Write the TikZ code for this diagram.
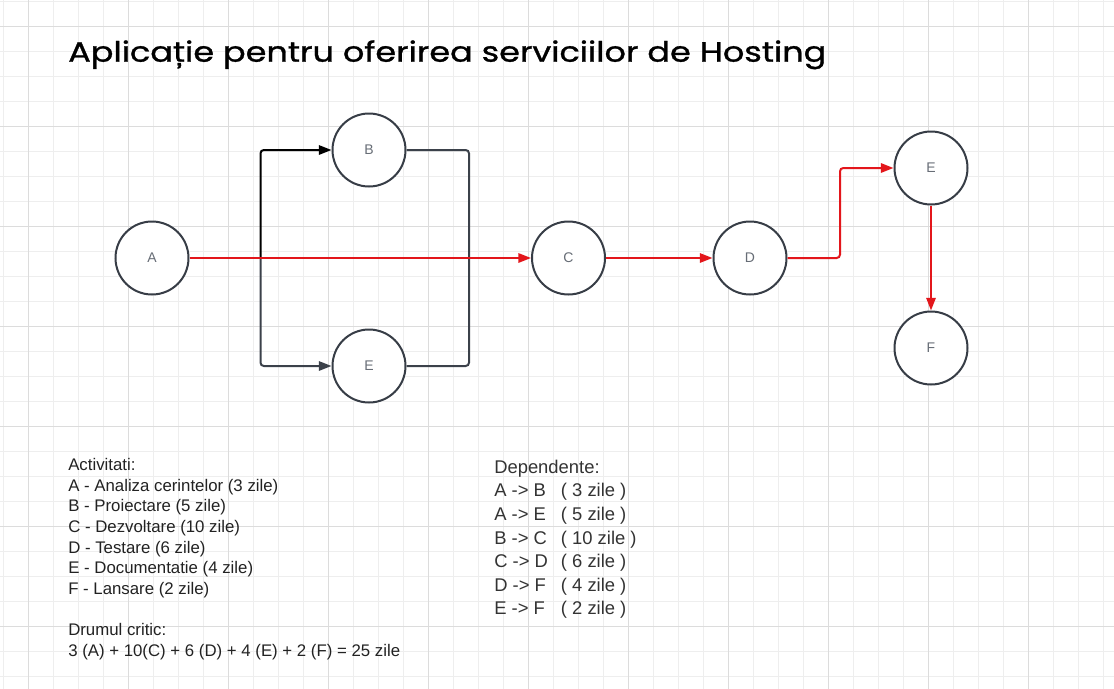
\documentclass[tikz,border=0pt]{standalone}
\usepackage{fontspec}
\setmainfont{Liberation Sans}
\newfontfamily\titlefont{Poppins}[FakeBold=1]
\usetikzlibrary{arrows.meta,calc}
\definecolor{CritClr}{HTML}{E3161B}
\definecolor{RingClr}{HTML}{373D46}
\definecolor{LinkClr}{HTML}{3B414A}
\definecolor{LblClr}{HTML}{676D76}
\definecolor{GridMinor}{HTML}{EEEEEE}
\definecolor{GridMajor}{HTML}{DCDCDC}
\definecolor{TxtClr}{HTML}{222222}
\definecolor{DepClr}{HTML}{333333}

\tikzset{
  task/.style={circle,draw=RingClr,line width=1.5pt,fill=white,minimum size=54.75pt,inner sep=0pt,
    text=LblClr,font=\fontsize{10.5}{12}\selectfont},
  link/.style={line width=1.5pt,color=LinkClr,rounded corners=2.5pt,-{Triangle[length=9.5pt,width=7pt]}},
  crit/.style={line width=1.5pt,color=CritClr,rounded corners=2.5pt,-{Triangle[length=9.5pt,width=7pt]}},
  info/.style={anchor=base west,inner sep=0pt,text=TxtClr,font=\fontsize{12.6}{14}\selectfont},
  dep/.style={anchor=base west,inner sep=0pt,text=DepClr,font=\fontsize{13.8}{16}\selectfont}
}

\begin{document}
\begin{tikzpicture}[x=0.75pt,y=-0.75pt]
\useasboundingbox (0,0) rectangle (1114,689);
\fill[white] (0,0) rectangle (1114,689);

% grid
\foreach \x in {3,28,...,1113}
  \draw[GridMinor,line width=0.75pt] (\x,0) -- (\x,689);
\foreach \y in {1.7,26.7,...,689}
  \draw[GridMinor,line width=0.75pt] (0,\y) -- (1114,\y);
\foreach \x in {28,128,...,1113}
  \draw[GridMajor,line width=0.75pt] (\x,0) -- (\x,689);
\foreach \y in {26.7,126.7,...,689}
  \draw[GridMajor,line width=0.75pt] (0,\y) -- (1114,\y);

% title
\node[anchor=base west,inner sep=0pt,font=\titlefont\fontsize{21}{24}\selectfont] (title) at (68,61.7)
  {\resizebox{568.5pt}{\height}{Aplicație pentru oferirea serviciilor de Hosting}};

% activities
\node[task] (A) at (152,258) {A};
\node[task] (B) at (369,150) {B};
\node[task] (E1) at (369,366) {E};
\node[task] (C) at (568.5,258) {C};
\node[task] (D) at (750,258) {D};
\node[task] (E) at (931,168) {E};
\node[task] (F) at (931,348) {F};

\coordinate (j1) at (260.5,258);
\coordinate (j2) at (469,258);
\coordinate (k) at (840,258);

\draw[link,color=black] (j1) |- (B);
\draw[link] (j1) |- (E1);
\draw[link,-] (B) -| (j2);
\draw[link,-] (E1) -| (j2);

\draw[crit] (A) -- (C);
\draw[crit] (C) -- (D);
\draw[crit] (D) -- (k) |- (E);
\draw[crit] (E) -- (F);

% legend
\foreach \t [count=\i] in {Activitati:,A - Analiza cerintelor (3 zile),B - Proiectare (5 zile),
    C - Dezvoltare (10 zile),D - Testare (6 zile),E - Documentatie (4 zile),F - Lansare (2 zile),
    {},Drumul critic:,3 (A) + 10(C) + 6 (D) + 4 (E) + 2 (F) = 25 zile}
  \node[info] (act\i) at (68,{470.7+20.6*(\i-1)}) {\t};

\node[dep] (dep0) at (494,473.3) {Dependente:};
\foreach \p/\q [count=\i] in {A -> B/( 3 zile ),A -> E/( 5 zile ),B -> C/( 10 zile ),
    C -> D/( 6 zile ),D -> F/( 4 zile ),E -> F/( 2 zile )}
  \node[dep] (dep\i) at (494,{473.3+23.6*\i}) {\makebox[50pt][l]{\p}\q};

\end{tikzpicture}
\end{document}
